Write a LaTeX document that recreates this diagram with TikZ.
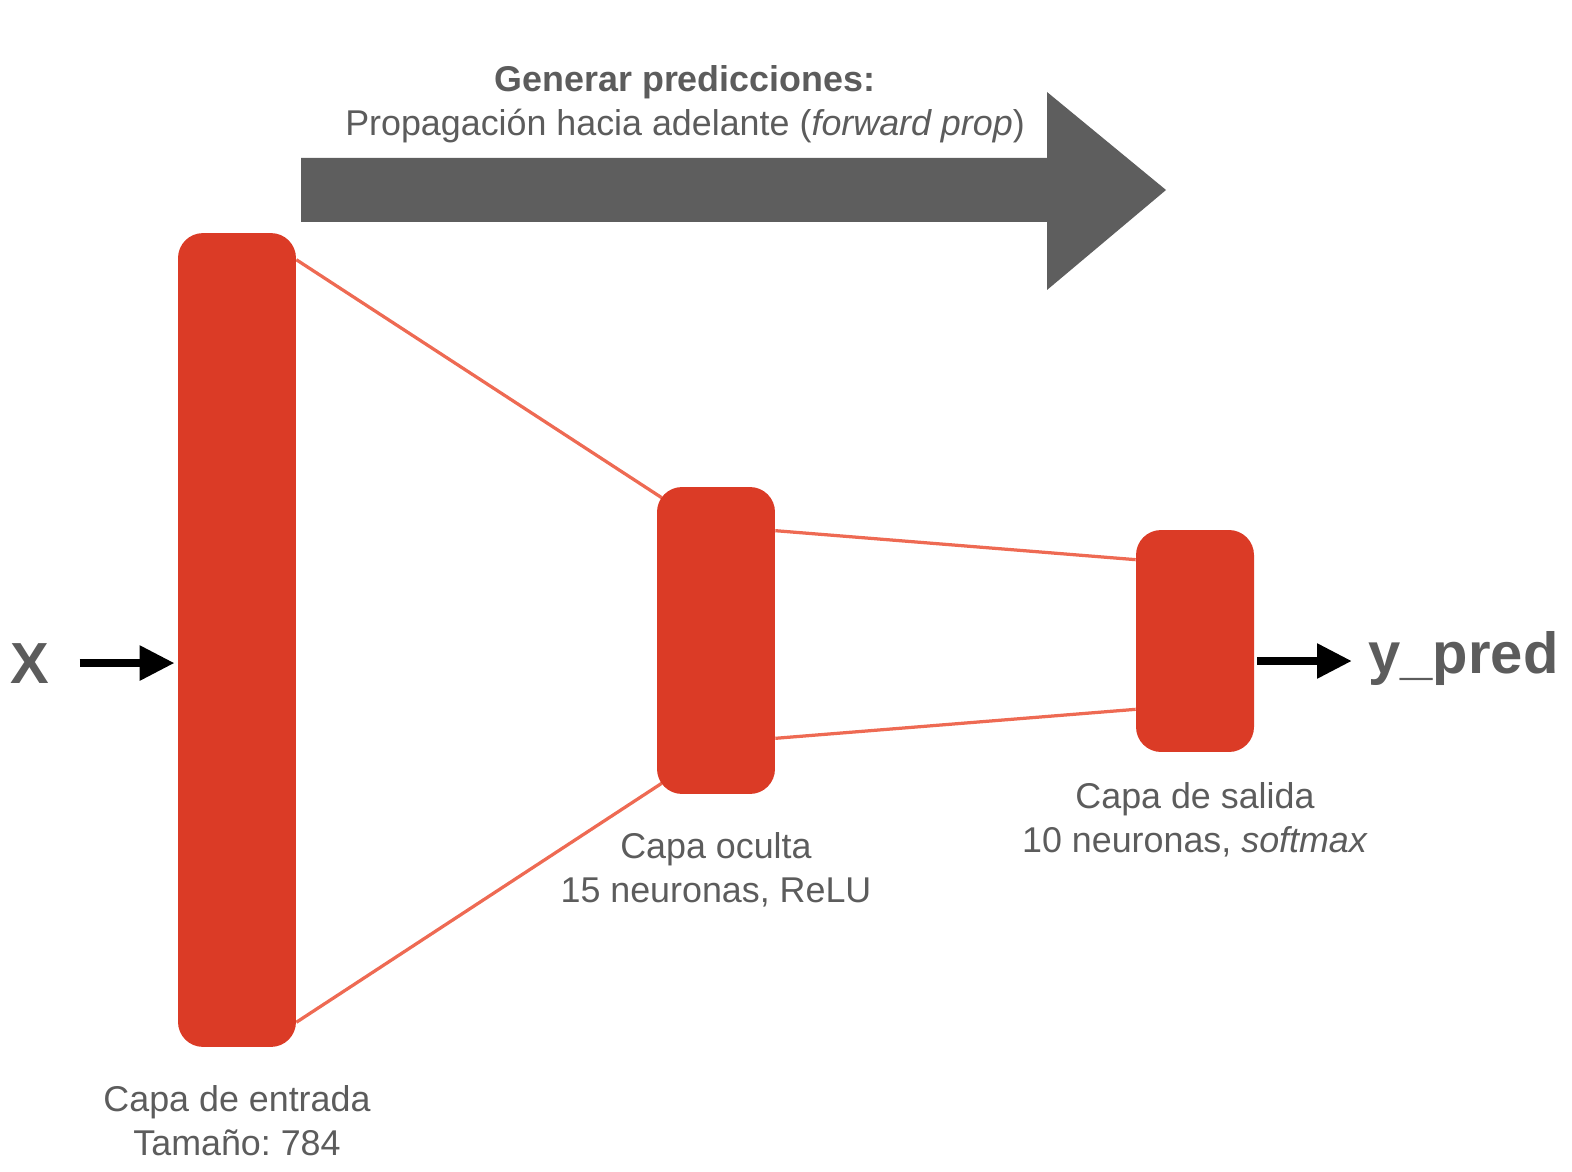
\documentclass[tikz,border=0pt]{standalone}
\usepackage{fontspec}
\setmainfont{Liberation Sans}
\frenchspacing
\usetikzlibrary{positioning,calc,backgrounds,arrows.meta}
\definecolor{capared}{HTML}{DB3B26}
\definecolor{enlacered}{HTML}{EE6A53}
\definecolor{flechagris}{HTML}{5E5E5E}
\definecolor{textogris}{HTML}{5C5C5C}

\begin{document}
\begin{tikzpicture}[x=0.02cm, y=-0.02cm,
        capa/.style={fill=capared, rounded corners=0.5cm, minimum width=2.36cm, inner sep=0pt},
        enlace/.style={draw=enlacered, line width=0.065cm},
        etiqueta/.style={text=textogris, align=center, inner sep=0pt, font=\fontsize{20.4}{25.2}\selectfont},
        grande/.style={text=textogris, inner sep=0pt, font=\fontsize{33}{36}\selectfont\bfseries},
        entra/.style={line width=0.17cm, -{Triangle[length=0.7cm,width=0.66cm]}}]
        \useasboundingbox (0,0) rectangle (1572,1172);
        % capas de la red
        \node[capa, minimum height=16.28cm] (inp) at (237,640) {};
        \node[capa, minimum height=6.14cm] (hid) at (716,640.5) {};
        \node[capa, minimum height=4.44cm] (out) at (1195,641) {};
        \node[etiqueta, below=0.76cm of inp] (inplab) {Capa de entrada\\Tamaño: 784};
        \node[etiqueta, below=0.76cm of hid] (hidlab) {Capa oculta\\15 neuronas, ReLU};
        \node[etiqueta, below=0.6cm of out] (outlab) {Capa de salida\\10 neuronas, \textit{softmax}};
        % enlaces entre capas
        \begin{scope}[on background layer]
            \draw[enlace] ($(inp.north east)+(0,27)$) -- ($(hid.north west)+(5,11)$);
            \draw[enlace] ($(inp.south east)+(0,-25)$) -- ($(hid.south west)+(5,-11)$);
            \draw[enlace] ($(hid.north east)+(0,44)$) -- ($(out.north west)+(0,30)$);
            \draw[enlace] ($(hid.south east)+(0,-56)$) -- ($(out.south west)+(0,-43)$);
        \end{scope}
        % entrada y salida
        \node[grande, anchor=base] (xin) at (30,683) {X};
        \draw[entra, shorten <=0.6cm, shorten >=0.06cm] (xin.east) -- (xin.east -| inp.west);
        \node[grande, anchor=base west] (ypred) at (1368,673) {y\_pred};
        \coordinate (yin) at ($(ypred.west)+(0,3)$);
        \draw[entra, shorten <=0.06cm, shorten >=0.32cm] (out.east |- yin) -- (yin);
        % flecha grande
        \fill[flechagris] (301,158) -- (1047,158) -- (1047,92) -- (1166,190) -- (1047,290) -- (1047,222) -- (301,222) -- cycle;
        \node[etiqueta, anchor=north] (titulo) at (685,65) {\textbf{Generar predicciones:}\\Propagación hacia adelante (\textit{forward prop})};
    \end{tikzpicture}
\end{document}
